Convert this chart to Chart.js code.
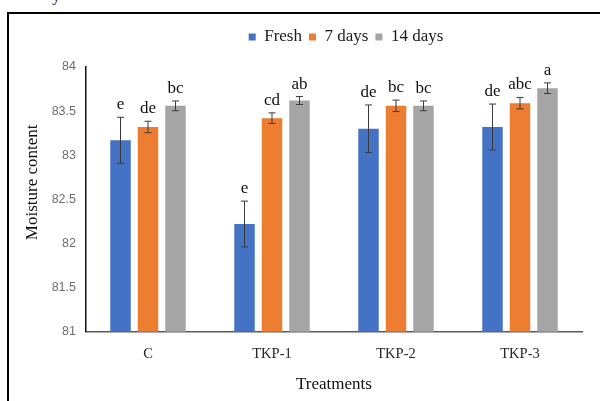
<!DOCTYPE html>
<html>
<head>
<meta charset="utf-8">
<script src="https://cdn.jsdelivr.net/npm/chart.js@4.4.1/dist/chart.umd.min.js"></script>
<style>
  html, body { margin: 0; padding: 0; background: #fff; overflow: hidden; }
  #wrap { position: absolute; left: 0; top: 0; width: 600px; height: 401px; }
  #frame { position: absolute; left: 7px; top: 12px; width: 700px; height: 500px;
           border: 2px solid #000; pointer-events: none; }
  #cut { position: absolute; left: 52px; top: -13px; font: 17px "Liberation Serif"; line-height: 17px; color: #222; }
</style>
</head>
<body>
<div id="cut">y</div>
<div id="frame"></div>
<div id="wrap"><canvas id="moistureChart" width="600" height="401"></canvas></div>
<script>
// valores
const categories = ['C', 'TKP-1', 'TKP-2', 'TKP-3'];
const fresh = [83.17, 82.22, 83.30, 83.32];
const days7 = [83.32, 83.42, 83.56, 83.59];
const days14 = [83.56, 83.62, 83.56, 83.76];
const errFresh = [0.26, 0.26, 0.27, 0.26];
const errDays7 = [0.065, 0.06, 0.065, 0.065];
const errDays14 = [0.055, 0.045, 0.055, 0.06];
const lettersFresh = ['e', 'e', 'de', 'de'];
const lettersDays7 = ['de', 'cd', 'bc', 'abc'];
const lettersDays14 = ['bc', 'ab', 'bc', 'a'];
const yMin = 81, yMax = 84, yStep = 0.5;

const serif = 'Liberation Serif';

// barras de error y letras encima
const errorBars = {
    id: 'errorBars',
    afterDatasetsDraw(chart) {
        const ctx = chart.ctx;
        const y = chart.scales.y;
        chart.data.datasets.forEach((ds, i) => {
            const meta = chart.getDatasetMeta(i);
            meta.data.forEach((bar, j) => {
                const v = ds.data[j], e = ds.errors[j];
                const top = y.getPixelForValue(v + e);
                const bot = y.getPixelForValue(v - e);
                ctx.save();
                ctx.strokeStyle = '#3a3a3a';
                ctx.lineWidth = 1;
                ctx.beginPath();
                ctx.moveTo(bar.x, top); ctx.lineTo(bar.x, bot);
                ctx.moveTo(bar.x - 3.5, top); ctx.lineTo(bar.x + 3.5, top);
                ctx.moveTo(bar.x - 3.5, bot); ctx.lineTo(bar.x + 3.5, bot);
                ctx.stroke();
                ctx.fillStyle = '#111';
                ctx.font = '17px "' + serif + '"';
                ctx.textAlign = 'center';
                ctx.textBaseline = 'alphabetic';
                ctx.fillText(ds.letters[j], bar.x, top - 8);
                ctx.restore();
            });
        });
    }
};

// mover la leyenda como en la figura original
const legendShift = {
    id: 'legendShift',
    afterLayout(chart) {
        const l = chart.legend;
        l.left += 55; l.right += 55;
        l.top -= 11.5; l.bottom -= 11.5;
    }
};

const ctx = document.getElementById('moistureChart').getContext('2d');

new Chart(ctx, {
    type: 'bar',
    data: {
        labels: categories,
        datasets: [
            { label: 'Fresh', data: fresh, errors: errFresh, letters: lettersFresh, backgroundColor: '#4472C4' },
            { label: '7 days', data: days7, errors: errDays7, letters: lettersDays7, backgroundColor: '#ED7D31' },
            { label: '14 days', data: days14, errors: errDays14, letters: lettersDays14, backgroundColor: '#A5A5A5' }
        ]
    },
    options: {
        responsive: false,
        animation: false,
        datasets: {
            bar: { borderWidth: 0, categoryPercentage: 0.665, barPercentage: 0.745 }
        },
        layout: { padding: { left: 0, right: 18, top: 33, bottom: 0 } },
        plugins: {
            legend: {
                position: 'top',
                labels: {
                    boxWidth: 7, boxHeight: 7, padding: 7,
                    color: '#1a1a1a',
                    font: { family: serif, size: 17 }
                }
            },
            tooltip: { enabled: false }
        },
        scales: {
            x: {
                grid: { display: false, drawTicks: false },
                border: { color: '#595959', width: 1.5 },
                ticks: { color: '#262626', padding: 14, font: { family: serif, size: 14.5 } },
                title: {
                    display: true, text: 'Treatments', color: '#111',
                    font: { family: serif, size: 17 }, padding: { top: 0, bottom: 6 }
                },
                afterFit(scale) { scale.height = 69.3; }
            },
            y: {
                min: yMin, max: yMax,
                grid: { display: false, drawTicks: false },
                border: { color: '#111', width: 1.5 },
                ticks: {
                    stepSize: yStep, color: '#6d6d6d', padding: 10,
                    font: { family: 'Liberation Sans', size: 12.5 },
                    callback: (v) => String(v)
                },
                title: {
                    display: true, text: '        Moisture content', color: '#111',
                    font: { family: serif, size: 17 }, padding: { top: 22.8, bottom: 0 }
                },
                afterFit(scale) { scale.width = 86; }
            }
        }
    },
    plugins: [errorBars, legendShift]
});
</script>
</body>
</html>
